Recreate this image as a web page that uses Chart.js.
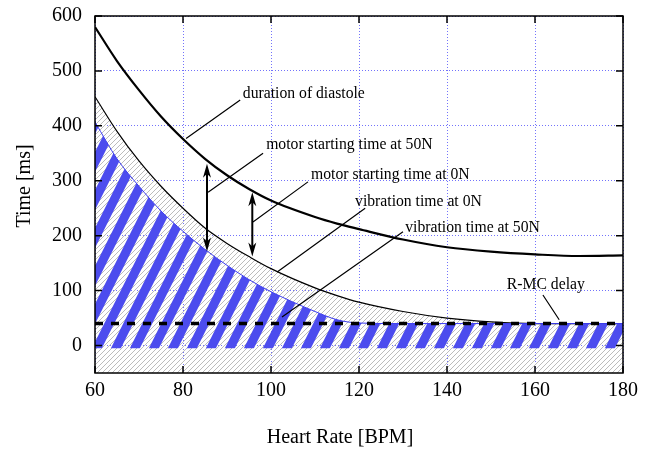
<!DOCTYPE html>
<html>
<head>
<meta charset="utf-8">
<script src="https://cdn.jsdelivr.net/npm/chart.js@4.4.1/dist/chart.umd.min.js"></script>
<style>
  html, body { margin: 0; padding: 0; background: #fff; }
</style>
</head>
<body>
<canvas id="myChart" width="650" height="449"></canvas>
<script>
// values (ms vs BPM)
const heartRate  = [60, 65, 70, 75, 80, 85, 90, 95, 100, 110, 115, 120, 130, 140, 150, 160, 170, 180];
const diastole   = [580, 518, 465, 417, 376, 340, 310, 285, 264, 234, 222, 212, 193, 179, 171, 166, 163, 164];
const motorStart = [453, 390, 336, 290, 250, 214, 186, 162, 140, 105, 91, 79, 62, 50, 43, 40, 40, 40];
const vibration  = [407, 340, 290, 245, 208, 175, 146, 120, 98, 62, 47, 41, 40, 40, 40, 40, 40, 40];
const rmcDelay = 40;
const vibrationBase = -5;

const xTicks = [60, 80, 100, 120, 140, 160, 180];
const yTicks = [0, 100, 200, 300, 400, 500, 600];

// labels with their leader lines, all in data units
const noteLabels = ['duration of diastole', 'motor starting time at 50N', 'motor starting time at 0N',
                    'vibration time at 0N', 'vibration time at 50N', 'R-MC delay'];
const noteX = [93.6, 98.9, 109.1, 119.1, 130.5, 153.6];
const noteY = [459, 365, 311, 262, 214, 110];
const leaderFrom = [[80.7, 377], [85.7, 279], [95.9, 225], [101.4, 134], [102.5, 52], [161.8, 92]];
const leaderTo   = [[93.0, 447], [98.2, 350], [108.4, 298], [121.4, 250], [130.0, 207], [165.5, 47]];
// double arrows: [x, yTop, yBottom]
const arrows = [[85.45, 331, 171], [95.75, 279, 162]];

function grayHatch() {
  const c = document.createElement('canvas');
  c.width = 5; c.height = 5;
  const g = c.getContext('2d');
  g.strokeStyle = '#bcbcbc';
  g.lineWidth = 1;
  g.beginPath();
  g.moveTo(-1, 6); g.lineTo(6, -1);
  g.moveTo(-6, 6); g.lineTo(1, -1);
  g.moveTo(4, 6); g.lineTo(11, -1);
  g.stroke();
  return g.createPattern(c, 'repeat');
}

function blueStripes() {
  const w = 19, h = 38, sw = 10;
  const c = document.createElement('canvas');
  c.width = w; c.height = h;
  const g = c.getContext('2d');
  g.fillStyle = '#4c4cee';
  for (let k = -2; k <= 1; k++) {
    g.beginPath();
    g.moveTo(k * w, h);
    g.lineTo(k * w + sw, h);
    g.lineTo(k * w + sw + w, 0);
    g.lineTo(k * w + w, 0);
    g.closePath();
    g.fill();
  }
  return g.createPattern(c, 'repeat');
}

const toPts = ys => heartRate.map((x, i) => ({ x: x, y: ys[i] }));

const frameAndNotes = {
  id: 'frameAndNotes',
  afterDraw(chart) {
    const ctx = chart.ctx;
    const a = chart.chartArea;
    const xs = chart.scales.x, ys = chart.scales.y;
    ctx.save();
    // frame and inward ticks
    ctx.strokeStyle = '#000';
    ctx.lineWidth = 1.5;
    ctx.strokeRect(a.left, a.top, a.right - a.left, a.bottom - a.top);
    ctx.beginPath();
    xTicks.forEach(v => {
      const px = xs.getPixelForValue(v);
      ctx.moveTo(px, a.bottom); ctx.lineTo(px, a.bottom - 7);
      ctx.moveTo(px, a.top); ctx.lineTo(px, a.top + 7);
    });
    yTicks.forEach(v => {
      const py = ys.getPixelForValue(v);
      ctx.moveTo(a.left, py); ctx.lineTo(a.left + 7, py);
      ctx.moveTo(a.right, py); ctx.lineTo(a.right - 7, py);
    });
    ctx.stroke();

    // leader lines
    ctx.lineWidth = 1.2;
    ctx.beginPath();
    leaderFrom.forEach((p, i) => {
      ctx.moveTo(xs.getPixelForValue(p[0]), ys.getPixelForValue(p[1]));
      ctx.lineTo(xs.getPixelForValue(leaderTo[i][0]), ys.getPixelForValue(leaderTo[i][1]));
    });
    ctx.stroke();

    // double arrows
    ctx.fillStyle = '#000';
    arrows.forEach(ar => {
      const px = xs.getPixelForValue(ar[0]);
      const top = ys.getPixelForValue(ar[1]);
      const bot = ys.getPixelForValue(ar[2]);
      ctx.lineWidth = 2;
      ctx.beginPath();
      ctx.moveTo(px, top + 8); ctx.lineTo(px, bot - 8);
      ctx.stroke();
      [[top, 1], [bot, -1]].forEach(([y0, d]) => {
        ctx.beginPath();
        ctx.moveTo(px, y0);
        ctx.lineTo(px - 4, y0 + d * 14);
        ctx.lineTo(px, y0 + d * 10);
        ctx.lineTo(px + 4, y0 + d * 14);
        ctx.closePath();
        ctx.fill();
      });
    });

    // labels
    ctx.font = '15.7px "Liberation Serif"';
    ctx.textAlign = 'left';
    ctx.textBaseline = 'middle';
    noteLabels.forEach((t, i) => {
      ctx.fillText(t, xs.getPixelForValue(noteX[i]), ys.getPixelForValue(noteY[i]));
    });

    // axis titles
    ctx.font = '20px "Liberation Serif"';
    ctx.textAlign = 'center';
    ctx.fillText('Heart Rate [BPM]', 340, 438);
    ctx.translate(25, 186);
    ctx.rotate(-Math.PI / 2);
    ctx.fillText('Time [ms]', 0, 0);
    ctx.restore();
  }
};

const gridOpts = { color: 'rgba(90,90,250,0.85)', lineWidth: 1, drawTicks: false };
const borderOpts = { display: false, dash: [1, 2] };
const tickFont = { family: 'Liberation Serif', size: 20 };

new Chart('myChart', {
  type: 'line',
  data: {
    datasets: [
      { label: 'duration of diastole', data: toPts(diastole), borderColor: '#000', borderWidth: 2.2,
        pointRadius: 0, fill: false, cubicInterpolationMode: 'monotone', order: 1 },
      { label: 'R-MC delay', data: heartRate.map(x => ({ x: x, y: rmcDelay })), borderColor: '#000',
        borderWidth: 3.5, borderDash: [8, 8], pointRadius: 0, fill: false, order: 2 },
      { label: 'vibration time', data: toPts(vibration), borderColor: '#3c3cf0', borderWidth: 1,
        backgroundColor: blueStripes(), fill: { value: vibrationBase }, pointRadius: 0,
        cubicInterpolationMode: 'monotone', order: 3 },
      { label: 'motor starting time', data: toPts(motorStart), borderColor: '#000', borderWidth: 1.2,
        backgroundColor: grayHatch(), fill: 'start', pointRadius: 0,
        cubicInterpolationMode: 'monotone', order: 4 }
    ]
  },
  options: {
    responsive: false,
    animation: false,
    devicePixelRatio: 1,
    layout: { padding: { left: 0, right: 27, top: 16, bottom: 0 } },
    plugins: { legend: { display: false }, tooltip: { enabled: false } },
    scales: {
      x: {
        type: 'linear', min: 60, max: 180,
        afterBuildTicks: s => { s.ticks = xTicks.map(v => ({ value: v })); },
        afterFit: s => { s.height = 76; s.paddingLeft = 0; s.paddingRight = 0; },
        ticks: { font: tickFont, color: '#000', padding: 6 },
        grid: gridOpts, border: borderOpts
      },
      y: {
        type: 'linear', min: -50, max: 600,
        afterBuildTicks: s => { s.ticks = yTicks.map(v => ({ value: v })); },
        afterFit: s => { s.width = 95; s.paddingTop = 0; s.paddingBottom = 0; },
        ticks: { font: tickFont, color: '#000', padding: 13 },
        grid: gridOpts, border: borderOpts
      }
    }
  },
  plugins: [frameAndNotes]
});
</script>
</body>
</html>
